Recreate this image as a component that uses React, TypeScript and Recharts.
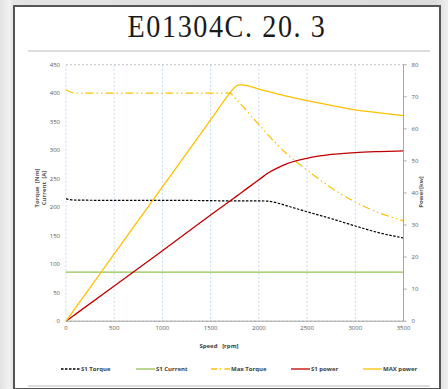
import { LineChart, Line, XAxis, YAxis, CartesianGrid } from "recharts";

const speed = [0, 100, 500, 1000, 1500, 1700, 1750, 1800, 1850, 1900, 2000, 2100, 2200, 2300, 2500, 2750, 3000, 3250, 3500];
const s1Torque = [214.5, 212.5, 212, 212, 211.5, 211, 211, 211, 211, 211, 211, 210.5, 207, 202, 192, 180, 167, 155, 146];
const s1Current = [86, 86, 86, 86, 86, 86, 86, 86, 86, 86, 86, 86, 86, 86, 86, 86, 86, 86, 86];
const maxTorque = [405.5, 400, 400, 400, 400, 400, 392, 383, 374, 364, 345, 326, 308, 292, 265, 234, 209, 190, 176];
const s1Power = [0, 2.2, 11, 22, 33.1, 37.5, 38.6, 39.7, 40.8, 41.9, 44.1, 46.3, 47.9, 49.2, 50.8, 52, 52.6, 52.9, 53.1];
const maxPower = [0, 4.2, 21, 41.9, 62.8, 71.2, 73, 73.7, 73.6, 73.3, 72.4, 71.6, 70.8, 70.1, 68.8, 67.3, 65.9, 65, 64.1];

const xTicks = [0, 500, 1000, 1500, 2000, 2500, 3000, 3500];
const leftTicks = [0, 50, 100, 150, 200, 250, 300, 350, 400, 450];
const rightTicks = [0, 10, 20, 30, 40, 50, 60, 70, 80];

const data = speed.map((s, i) => ({
  speed: s,
  s1Torque: s1Torque[i],
  s1Current: s1Current[i],
  maxTorque: maxTorque[i],
  s1Power: s1Power[i],
  maxPower: maxPower[i],
}));

const legendItems = [
  { name: "S1 Torque", color: "#000000", dash: "2.5 1.5" },
  { name: "S1 Current", color: "#92C050", dash: "" },
  { name: "Max Torque", color: "#FFC000", dash: "6 3 1.5 3" },
  { name: "S1 power", color: "#C00000", dash: "" },
  { name: "MAX power", color: "#FFC000", dash: "" },
];

const tickStyle = { fontSize: 6, fill: "#595959", fontFamily: "Open Sans, sans-serif" };

function LegendBox() {
  const lefts = [61, 136, 211, 291, 363];
  return (
    <div style={{ position: "absolute", left: 0, top: 365, width: 448, height: 10 }}>
      {legendItems.map((it, i) => (
        <div
          key={it.name}
          style={{
            position: "absolute",
            left: lefts[i],
            top: 0,
            display: "flex",
            alignItems: "center",
            whiteSpace: "nowrap",
          }}
        >
          <svg width={19} height={8}>
            <line x1={0} y1={4} x2={19} y2={4} stroke={it.color} strokeWidth={1.3} strokeDasharray={it.dash} />
          </svg>
          <span
            style={{
              fontSize: 6,
              fontWeight: 700,
              color: "#404040",
              fontFamily: "Open Sans, sans-serif",
              marginLeft: 1,
            }}
          >
            {it.name}
          </span>
        </div>
      ))}
    </div>
  );
}

export default function App() {
  return (
    <div
      style={{
        position: "absolute",
        left: 0,
        top: 0,
        width: 448,
        height: 389,
        overflow: "hidden",
        background: "linear-gradient(90deg, #e2e2e2 0%, #f2f2f2 2%, #e4e4e4 3%, #dcdcdc 97%, #eeeeee 100%)",
      }}
    >
      <div
        style={{
          position: "absolute",
          left: 13,
          top: 5,
          width: 424,
          height: 381,
          background: "#ffffff",
          border: "2px solid #555555",
        }}
      />
      <div style={{ position: "absolute", left: 28, top: 50, width: 402, height: 2, background: "#dddddd" }} />
      <div style={{ position: "absolute", left: 28, top: 385, width: 402, height: 2, background: "#dddddd" }} />
      <div
        style={{
          position: "absolute",
          left: 13,
          top: 8,
          width: 428,
          textAlign: "center",
          fontFamily: "Liberation Serif, serif",
          fontSize: 32,
          letterSpacing: 1.8,
          color: "#1a1a1a",
          transform: "scaleX(0.88)",
        }}
      >
        E01304C. 20. 3
      </div>

      <div style={{ position: "absolute", left: 0, top: 0 }}>
        <LineChart
          width={448}
          height={389}
          data={data}
          margin={{ top: 64.7, right: 14.5, left: 36, bottom: 47.8 }}
        >
          <CartesianGrid horizontal={true} vertical={false} stroke="#c4c4c4" strokeDasharray="2 2" />
          <CartesianGrid horizontal={false} vertical={true} stroke="#c6d9f1" strokeDasharray="2 2" />
          <XAxis
            dataKey="speed"
            type="number"
            domain={[0, 3500]}
            ticks={xTicks}
            height={20}
            tickSize={0}
            tickMargin={5}
            stroke="#a6a6a6"
            tick={tickStyle}
          />
          <YAxis
            yAxisId="left"
            domain={[0, 450]}
            ticks={leftTicks}
            width={30}
            axisLine={false}
            tickLine={false}
            tickSize={0}
            tickMargin={6}
            tick={tickStyle}
          />
          <YAxis
            yAxisId="right"
            orientation="right"
            domain={[0, 80]}
            ticks={rightTicks}
            width={30}
            stroke="#a6a6a6"
            tickSize={3}
            tickMargin={5}
            tick={{ ...tickStyle, textAnchor: "start" }}
          />
          <Line yAxisId="left" dataKey="s1Current" stroke="#92C050" strokeWidth={1.3} dot={false} type="linear" isAnimationActive={false} />
          <Line
            yAxisId="left"
            dataKey="s1Torque"
            stroke="#000000"
            strokeWidth={1.2}
            strokeDasharray="2.5 1.5"
            dot={false}
            type="monotone"
            isAnimationActive={false}
          />
          <Line
            yAxisId="left"
            dataKey="maxTorque"
            stroke="#FFC000"
            strokeWidth={1.2}
            strokeDasharray="8 3 1.5 3 1.5 3"
            dot={false}
            type="monotone"
            isAnimationActive={false}
          />
          <Line yAxisId="right" dataKey="s1Power" stroke="#C00000" strokeWidth={1.3} dot={false} type="monotone" isAnimationActive={false} />
          <Line yAxisId="right" dataKey="maxPower" stroke="#FFC000" strokeWidth={1.3} dot={false} type="monotone" isAnimationActive={false} />
        </LineChart>
      </div>

      <LegendBox />

      <div
        style={{
          position: "absolute",
          left: 0,
          top: 342,
          width: 448,
          textAlign: "center",
          fontSize: 6,
          fontWeight: 700,
          color: "#404040",
          fontFamily: "Open Sans, sans-serif",
        }}
      >
        <span style={{ marginLeft: -10 }}>Speed&nbsp;&nbsp;&nbsp;[rpm]</span>
      </div>

      <div
        style={{
          position: "absolute",
          left: 41,
          top: 188,
          transform: "translate(-50%, -50%) rotate(-90deg)",
          fontSize: 6,
          fontWeight: 700,
          color: "#595959",
          fontFamily: "Open Sans, sans-serif",
          textAlign: "center",
          lineHeight: "7px",
          whiteSpace: "nowrap",
        }}
      >
        Torque&nbsp;&nbsp;[Nm]
        <br />
        Current&nbsp;&nbsp;[A]
      </div>

      <div
        style={{
          position: "absolute",
          left: 421,
          top: 192,
          transform: "translate(-50%, -50%) rotate(-90deg)",
          fontSize: 6,
          fontWeight: 700,
          color: "#595959",
          fontFamily: "Open Sans, sans-serif",
          whiteSpace: "nowrap",
        }}
      >
        Power[kw]
      </div>
    </div>
  );
}
